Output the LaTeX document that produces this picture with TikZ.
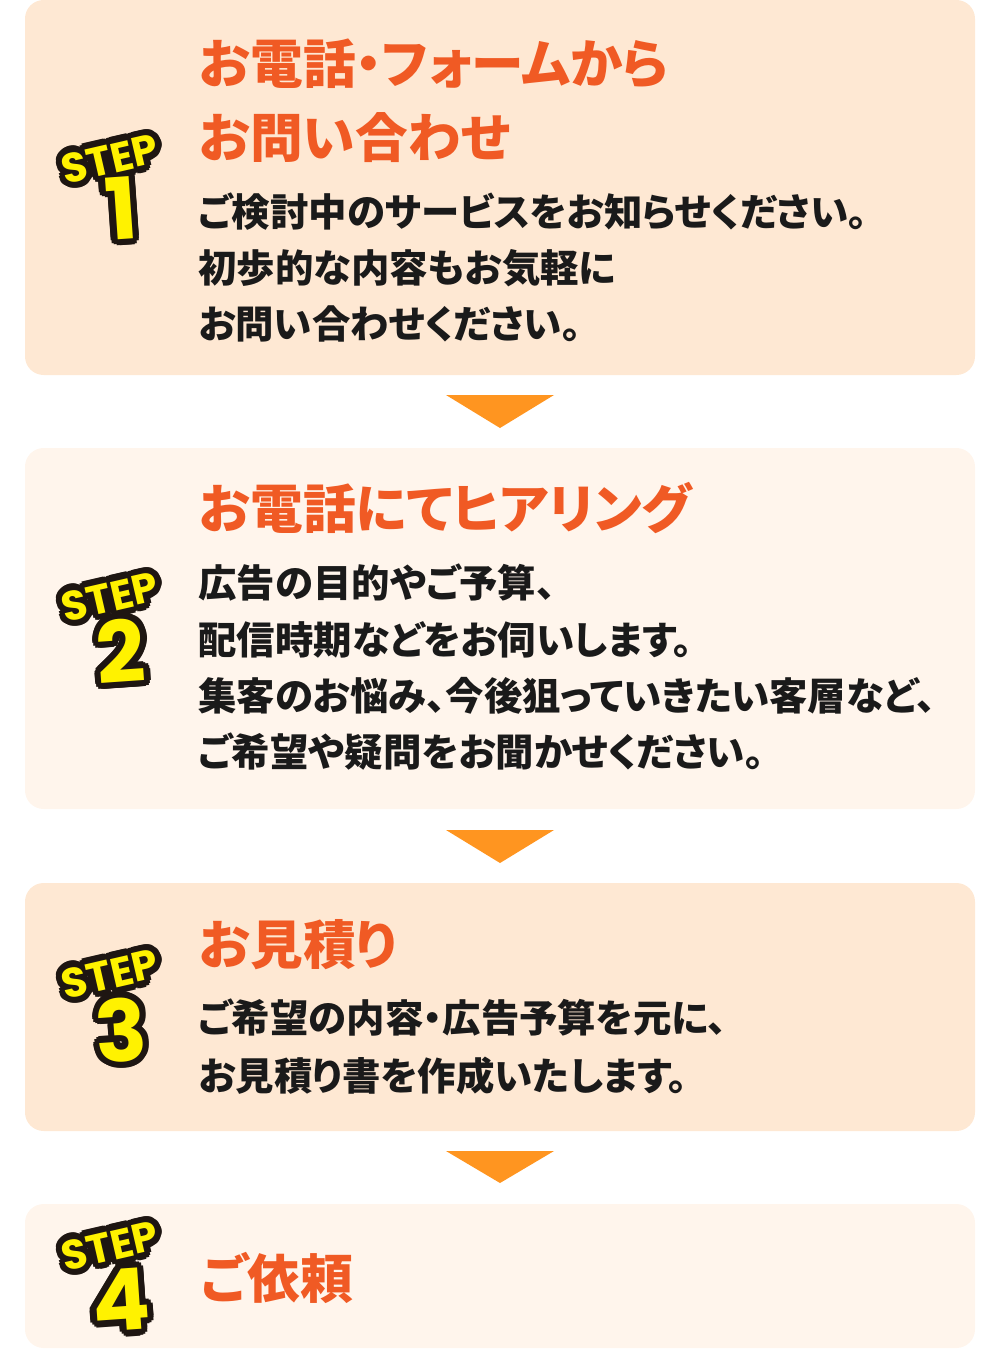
\documentclass[tikz,border=0pt]{standalone}
\usepackage{fontspec}
\newfontfamily\jpfont[RawFeature=+palt]{Noto Sans CJK JP}
\newfontfamily\badgefont{Poppins}

\definecolor{stepdeep}{RGB}{254,232,211}
\definecolor{steplight}{RGB}{255,245,236}
\definecolor{arroworange}{RGB}{255,149,32}
\definecolor{titleorange}{RGB}{240,90,36}
\definecolor{bodyblack}{RGB}{26,26,26}
\definecolor{badgeyellow}{RGB}{255,242,0}
\definecolor{badgeline}{RGB}{30,22,18}

\tikzset{every picture/.style={line width=0.75pt}}
\tikzset{
  stepbox/.style={draw opacity=0, rounded corners=14pt},
  downtri/.style={draw opacity=0, fill=arroworange},
  titletext/.style={anchor=base west, inner sep=0pt, text=titleorange, font=\jpfont\bfseries\fontsize{39.5}{44}\selectfont},
  bodytext/.style={anchor=base west, inner sep=0pt, text=bodyblack, font=\jpfont\bfseries\fontsize{28.8}{32}\selectfont},
  steplabel/.style={inner sep=0pt, rotate=13, font=\badgefont\bfseries\fontsize{31}{33}\selectfont},
  stepnum/.style={inner sep=0pt, rotate=4, font=\badgefont\bfseries\fontsize{64}{66}\selectfont},
}

\begin{document}
\begin{tikzpicture}[x=0.75pt,y=0.75pt,yscale=-1,xscale=1]
	\path [use as bounding box] (0,0) rectangle (1000,1349);

	%Shape: Rectangle [step 1]
	\fill [stepbox, stepdeep] (25,0) rectangle (975,375) ;
	%Shape: Rectangle [step 2]
	\fill [stepbox, steplight] (25,448) rectangle (975,809) ;
	%Shape: Rectangle [step 3]
	\fill [stepbox, stepdeep] (25,883) rectangle (975,1131) ;
	%Shape: Rectangle [step 4]
	\fill [stepbox, steplight] (25,1204) rectangle (975,1348) ;

	%Shape: Triangle
	\fill [downtri] (446,395) -- (554,395) -- (500,428) -- cycle ;
	%Shape: Triangle
	\fill [downtri] (446,830) -- (554,830) -- (500,863) -- cycle ;
	%Shape: Triangle
	\fill [downtri] (446,1151) -- (554,1151) -- (500,1183) -- cycle ;

	% STEP badges: dark halo first, yellow text on top
	\foreach \n/\ys/\yn in {1/159/208, 2/597/651, 3/974/1030, 4/1246/1300} {
		\foreach \a [count=\k] in {0,24,...,336} {
			\node [steplabel, text=badgeline] (halo\n s\k) at ([shift={(\a:6.5)}]110,\ys) {STEP};
			\node [stepnum, text=badgeline] (halo\n n\k) at ([shift={(\a:6.5)}]121,\yn) {\n};
		}
		\node [steplabel, text=badgeyellow] (step\n) at (110,\ys) {STEP};
		\node [stepnum, text=badgeyellow] (num\n) at (121,\yn) {\n};
	}

	% Text Node
	\draw (199,83) node [titletext] (title1a) {お電話・フォームから};
	% Text Node
	\draw (199,157) node [titletext] (title1b) {お問い合わせ};
	% Text Node
	\draw (198,226) node [bodytext] (body1a) {ご検討中のサービスをお知らせください。};
	% Text Node
	\draw (198,282) node [bodytext] (body1b) {初歩的な内容もお気軽に};
	% Text Node
	\draw (198,338) node [bodytext] (body1c) {お問い合わせください。};

	% Text Node
	\draw (199,528) node [titletext] (title2) {お電話にてヒアリング};
	% Text Node
	\draw (198,597) node [bodytext] (body2a) {広告の目的やご予算、};
	% Text Node
	\draw (198,654) node [bodytext] (body2b) {配信時期などをお伺いします。};
	% Text Node
	\draw (198,710) node [bodytext] (body2c) {集客のお悩み、今後狙っていきたい客層など、};
	% Text Node
	\draw (198,766) node [bodytext] (body2d) {ご希望や疑問をお聞かせください。};

	% Text Node
	\draw (199,964) node [titletext] (title3) {お見積り};
	% Text Node
	\draw (198,1032) node [bodytext] (body3a) {ご希望の内容・広告予算を元に、};
	% Text Node
	\draw (198,1090) node [bodytext] (body3b) {お見積り書を作成いたします。};

	% Text Node
	\draw (201,1298) node [titletext] (title4) {ご依頼};

\end{tikzpicture}
\end{document}
